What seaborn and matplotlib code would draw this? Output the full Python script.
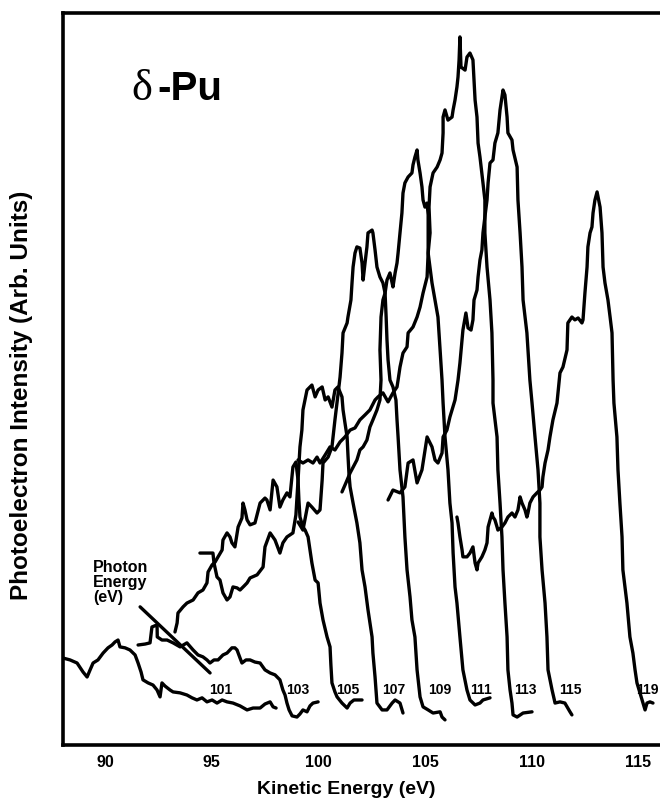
import matplotlib
matplotlib.use("Agg")
import matplotlib.pyplot as plt
from matplotlib.ticker import FixedLocator, FuncFormatter
import pandas as pd
import seaborn as sns

# (kinetic energy eV, intensity arb. units)
curve_101 = [(88.03, 2.95), (88.36, 2.87), (88.69, 2.74), (88.97, 2.36), (89.16, 2.15), (89.30, 2.45),
             (89.44, 2.74), (89.67, 2.87), (89.91, 3.16), (90.14, 3.38), (90.33, 3.50), (90.47, 3.63),
             (90.61, 3.71), (90.70, 3.42), (90.94, 3.38), (91.17, 3.29), (91.41, 3.08), (91.55, 2.74),
             (91.69, 2.36), (91.78, 2.03), (92.02, 1.90), (92.25, 1.81), (92.44, 1.60), (92.58, 1.31),
             (92.67, 1.90), (92.81, 1.77), (93.05, 1.60), (93.19, 1.52), (93.52, 1.48), (93.84, 1.39),
             (94.08, 1.27), (94.31, 1.18), (94.55, 1.27), (94.78, 1.10), (95.02, 1.18), (95.25, 1.05),
             (95.49, 1.18), (95.72, 1.10), (96.00, 1.05), (96.33, 0.93), (96.66, 0.76), (96.94, 0.84),
             (97.27, 0.84), (97.50, 1.01), (97.74, 1.10), (97.88, 0.89), (98.02, 0.84)]

curve_103 = [(91.55, 3.50), (91.88, 3.54), (92.11, 3.59), (92.20, 4.26), (92.44, 4.35), (92.45, 3.84),
             (92.67, 3.71), (92.91, 3.71), (93.19, 3.59), (93.52, 3.42), (93.84, 3.59), (94.13, 3.29),
             (94.36, 3.08), (94.59, 3.00), (94.78, 2.87), (94.92, 2.74), (95.11, 2.87), (95.30, 2.87),
             (95.53, 3.08), (95.72, 3.16), (95.95, 3.38), (96.09, 3.38), (96.19, 3.29), (96.33, 2.95),
             (96.42, 2.74), (96.61, 2.87), (96.80, 2.87), (97.03, 2.78), (97.27, 2.74), (97.50, 2.45),
             (97.74, 2.32), (97.97, 2.24), (98.20, 2.03), (98.34, 1.60), (98.44, 1.39), (98.53, 1.05),
             (98.63, 0.76), (98.77, 0.51), (99.00, 0.46), (99.14, 0.59), (99.28, 0.76), (99.47, 0.68),
             (99.61, 0.93), (99.75, 1.05), (99.99, 1.10)]

curve_105 = [(93.28, 4.05), (93.38, 4.43), (93.42, 4.85), (93.66, 5.11), (93.84, 5.27), (94.13, 5.40),
             (94.36, 5.70), (94.59, 5.82), (94.78, 6.12), (94.83, 6.58), (95.02, 6.88), (95.16, 7.00),
             (95.30, 7.22), (95.49, 7.51), (95.53, 7.93), (95.72, 8.23), (95.86, 8.06), (95.95, 7.81),
             (96.09, 7.64), (96.24, 8.48), (96.42, 8.86), (96.47, 9.49), (96.56, 9.20), (96.66, 8.78),
             (96.80, 8.57), (97.03, 8.65), (97.27, 9.49), (97.50, 9.70), (97.59, 9.62), (97.74, 9.20),
             (97.88, 10.46), (98.06, 10.17), (98.20, 9.32), (98.34, 9.62), (98.53, 9.92), (98.67, 9.75),
             (98.81, 11.01), (98.95, 11.22), (99.05, 10.46), (99.09, 9.62), (99.14, 8.90), (99.28, 8.48),
             (99.38, 8.35), (99.52, 8.06), (99.61, 7.51), (99.70, 6.96), (99.85, 6.24), (99.99, 6.12),
             (100.08, 5.27), (100.22, 4.56), (100.41, 3.84), (100.55, 3.42), (100.59, 2.66), (100.64, 1.90),
             (100.78, 1.52), (100.88, 1.31), (101.11, 1.05), (101.35, 0.84), (101.49, 1.05), (101.67, 1.18),
             (101.81, 1.18), (102.05, 1.18)]

curve_107 = [(94.45, 7.38), (95.06, 7.38), (95.11, 6.96), (95.25, 6.37), (95.39, 6.24), (95.53, 5.70),
             (95.72, 5.40), (95.86, 5.53), (96.00, 5.95), (96.19, 5.91), (96.33, 5.82), (96.52, 5.99),
             (96.66, 6.12), (96.80, 6.33), (97.13, 6.46), (97.41, 6.79), (97.50, 7.64), (97.74, 8.23),
             (97.97, 7.93), (98.20, 7.38), (98.34, 7.81), (98.53, 8.06), (98.81, 8.23), (98.95, 8.99),
             (99.05, 10.46), (99.14, 11.86), (99.23, 12.57), (99.28, 13.42), (99.47, 14.26), (99.70, 14.47),
             (99.85, 13.97), (99.99, 14.26), (100.18, 14.39), (100.32, 13.84), (100.46, 13.97), (100.64, 13.54),
             (100.78, 14.26), (100.92, 14.39), (101.11, 13.97), (101.16, 13.42), (101.25, 12.87), (101.35, 12.28),
             (101.39, 11.52), (101.44, 10.68), (101.49, 10.17), (101.63, 9.49), (101.81, 8.65), (101.95, 7.81),
             (102.05, 6.67), (102.19, 5.95), (102.33, 4.98), (102.52, 3.84), (102.56, 3.16), (102.66, 2.15),
             (102.75, 1.05), (102.99, 0.76), (103.22, 0.76), (103.46, 1.05), (103.60, 1.18), (103.83, 1.05),
             (103.97, 0.63)]

curve_109 = [(99.05, 8.69), (99.28, 8.35), (99.52, 9.49), (99.70, 9.32), (99.94, 9.07), (100.08, 9.20),
             (100.18, 10.46), (100.22, 11.18), (100.46, 11.43), (100.64, 11.86), (100.78, 13.00), (100.92, 14.05),
             (101.02, 14.81), (101.11, 15.82), (101.16, 16.67), (101.35, 17.09), (101.39, 17.34), (101.53, 18.06),
             (101.58, 18.78), (101.63, 19.45), (101.72, 20.04), (101.81, 20.30), (101.95, 20.25), (102.05, 19.62),
             (102.10, 18.90), (102.19, 19.62), (102.28, 20.30), (102.33, 20.89), (102.52, 21.01), (102.56, 20.89),
             (102.66, 20.17), (102.75, 19.45), (102.89, 19.03), (103.03, 18.78), (103.13, 18.35), (103.18, 17.34),
             (103.22, 16.37), (103.27, 15.53), (103.36, 14.68), (103.50, 14.39), (103.64, 13.84), (103.69, 13.00),
             (103.74, 12.28), (103.83, 10.89), (103.97, 9.75), (104.06, 8.06), (104.16, 6.67), (104.30, 5.53),
             (104.39, 4.56), (104.53, 3.84), (104.63, 2.45), (104.77, 1.31), (104.91, 0.89), (105.15, 0.76),
             (105.38, 0.63), (105.71, 0.68), (105.80, 0.46), (105.94, 0.34)]

curve_111 = [(101.11, 9.96), (101.25, 10.25), (101.35, 10.46), (101.49, 10.76), (101.81, 11.31), (101.95, 11.73),
             (102.10, 11.86), (102.28, 12.15), (102.42, 12.70), (102.56, 13.00), (102.75, 13.42), (102.89, 13.84),
             (102.94, 14.68), (102.89, 15.95), (102.94, 17.34), (103.03, 18.06), (103.13, 18.35), (103.22, 18.90),
             (103.36, 19.20), (103.46, 18.78), (103.50, 18.61), (103.60, 19.20), (103.69, 19.62), (103.74, 20.04),
             (103.83, 20.89), (103.92, 21.73), (103.97, 22.57), (104.06, 23.00), (104.21, 23.25), (104.39, 23.42),
             (104.44, 23.76), (104.53, 24.09), (104.63, 24.39), (104.67, 23.97), (104.77, 23.42), (104.86, 22.83),
             (104.91, 22.28), (105.00, 21.98), (105.10, 22.15), (105.15, 21.65), (105.15, 20.89), (105.15, 20.04),
             (105.33, 18.78), (105.47, 18.06), (105.61, 17.34), (105.71, 15.95), (105.80, 14.68), (105.85, 13.71),
             (105.94, 12.28), (106.08, 10.89), (106.17, 9.49), (106.27, 8.65), (106.32, 7.38), (106.41, 5.95),
             (106.50, 5.27), (106.64, 3.84), (106.78, 2.45), (106.97, 1.60), (107.11, 1.18), (107.35, 0.97),
             (107.58, 1.05), (107.72, 1.18), (108.05, 1.27)]

curve_113 = [(99.05, 11.31), (99.28, 11.18), (99.52, 11.31), (99.75, 11.18), (99.94, 11.43), (100.08, 11.18),
             (100.32, 11.52), (100.55, 11.86), (100.78, 11.73), (101.02, 12.07), (101.25, 12.28), (101.49, 12.57),
             (101.72, 12.66), (101.95, 13.00), (102.19, 13.21), (102.42, 13.42), (102.66, 13.84), (102.80, 13.97),
             (103.03, 14.14), (103.27, 13.76), (103.50, 14.14), (103.69, 14.39), (103.74, 14.68), (103.83, 15.23),
             (103.97, 15.82), (104.16, 16.08), (104.21, 16.67), (104.44, 16.92), (104.63, 17.34), (104.77, 17.76),
             (104.91, 18.35), (105.10, 19.03), (105.15, 20.04), (105.24, 20.89), (105.19, 21.98), (105.24, 22.83),
             (105.38, 23.42), (105.57, 23.67), (105.71, 23.97), (105.80, 24.26), (105.85, 25.11), (105.85, 25.78),
             (105.94, 26.08), (106.08, 25.65), (106.27, 25.78), (106.32, 26.08), (106.41, 26.50), (106.50, 27.05),
             (106.55, 27.47), (106.60, 28.19), (106.64, 29.16), (106.69, 27.89), (106.88, 27.76), (106.97, 28.31),
             (107.11, 28.48), (107.25, 28.19), (107.35, 26.50), (107.44, 25.78), (107.49, 24.68), (107.58, 24.09),
             (107.72, 23.00), (107.81, 22.28), (107.81, 20.89), (107.91, 19.45), (108.05, 18.06), (108.14, 16.67),
             (108.19, 14.68), (108.19, 13.71), (108.38, 12.28), (108.42, 10.89), (108.52, 9.49), (108.61, 8.06),
             (108.66, 6.67), (108.75, 5.27), (108.85, 3.84), (108.89, 2.45), (108.99, 1.60), (109.08, 1.05),
             (109.13, 0.55), (109.32, 0.46), (109.60, 0.63), (110.02, 0.68)]

curve_115 = [(103.27, 9.62), (103.50, 10.04), (103.83, 9.92), (104.06, 10.17), (104.21, 11.18), (104.44, 11.31),
             (104.63, 10.34), (104.86, 10.89), (105.10, 12.28), (105.33, 11.86), (105.47, 11.31), (105.61, 11.18),
             (105.80, 11.60), (105.85, 12.28), (106.03, 12.57), (106.17, 13.12), (106.41, 13.84), (106.55, 14.68),
             (106.64, 15.40), (106.78, 16.79), (106.92, 17.51), (107.02, 16.88), (107.16, 16.79), (107.25, 17.22),
             (107.30, 18.06), (107.44, 18.48), (107.49, 19.03), (107.58, 19.75), (107.67, 20.17), (107.72, 20.89),
             (107.81, 21.56), (107.91, 22.28), (107.96, 23.00), (108.05, 23.84), (108.19, 23.97), (108.28, 24.68),
             (108.42, 25.11), (108.52, 26.08), (108.66, 26.92), (108.75, 26.71), (108.85, 25.78), (108.89, 25.11),
             (109.08, 24.81), (109.13, 24.39), (109.32, 23.67), (109.36, 22.28), (109.46, 20.89), (109.55, 19.45),
             (109.60, 18.06), (109.78, 16.67), (109.92, 14.68), (110.02, 13.71), (110.16, 12.28), (110.30, 10.89),
             (110.39, 9.49), (110.39, 8.06), (110.49, 6.67), (110.63, 5.27), (110.72, 3.84), (110.77, 2.45),
             (110.96, 1.60), (111.10, 1.05), (111.33, 1.10), (111.56, 1.05), (111.80, 0.68), (111.89, 0.55)]

curve_119 = [(106.50, 8.90), (106.55, 8.65), (106.64, 8.06), (106.74, 7.51), (106.78, 7.22), (106.97, 7.22),
             (107.11, 7.38), (107.25, 7.64), (107.35, 6.96), (107.44, 6.67), (107.49, 6.96), (107.67, 7.22),
             (107.81, 7.51), (107.91, 7.81), (107.96, 8.48), (108.14, 9.07), (108.19, 8.90), (108.28, 8.78),
             (108.38, 8.48), (108.42, 8.35), (108.61, 8.48), (108.75, 8.65), (108.89, 8.90), (109.08, 9.07),
             (109.22, 8.90), (109.36, 9.20), (109.46, 9.75), (109.55, 9.49), (109.69, 9.20), (109.78, 8.90),
             (109.83, 9.07), (109.92, 9.49), (110.07, 9.75), (110.25, 9.92), (110.39, 10.04), (110.49, 10.17),
             (110.53, 10.59), (110.63, 11.18), (110.77, 11.73), (110.86, 12.28), (111.00, 13.00), (111.19, 13.71),
             (111.33, 14.98), (111.47, 15.23), (111.66, 15.95), (111.70, 17.09), (111.89, 17.34), (112.03, 17.22),
             (112.18, 17.30), (112.36, 17.09), (112.41, 17.22), (112.50, 18.35), (112.60, 19.45), (112.64, 20.30),
             (112.74, 20.89), (112.83, 21.14), (112.88, 21.73), (112.97, 22.28), (113.07, 22.62), (113.21, 21.98),
             (113.30, 20.89), (113.35, 19.45), (113.44, 18.78), (113.58, 18.06), (113.68, 17.34), (113.77, 16.67),
             (113.82, 14.68), (113.86, 13.71), (114.00, 12.28), (114.05, 10.89), (114.14, 9.49), (114.24, 8.06),
             (114.28, 6.67), (114.47, 5.27), (114.61, 3.84), (114.75, 3.16), (114.85, 2.45), (114.94, 1.90),
             (115.18, 1.18), (115.32, 0.76), (115.41, 1.05), (115.55, 1.10), (115.69, 1.05)]

photon_energies = ["101", "103", "105", "107", "109", "111", "113", "115", "119"]
curves = [curve_101, curve_103, curve_105, curve_107, curve_109, curve_111, curve_113, curve_115, curve_119]
label_ke = [95.44, 99.05, 101.39, 103.55, 105.71, 107.63, 109.69, 111.80, 115.97]
label_int = 1.60
x_ticks = list(range(89, 117))
y_ticks = list(range(0, 31))

sns.set_style("white")
plt.rcParams['font.family'] = ['Liberation Sans', 'DejaVu Sans']
plt.rcParams['text.color'] = 'black'
plt.rcParams['axes.labelcolor'] = 'black'
plt.rcParams['xtick.color'] = 'black'
plt.rcParams['ytick.color'] = 'black'

rows = []
for name, pts in zip(photon_energies, curves):
    for k, (e, i) in enumerate(pts):
        rows.append({"curve": name, "order": k, "ke": e, "intensity": i})
df = pd.DataFrame(rows)

fig = plt.figure(figsize=(6.6, 8.1), dpi=100)
ax = fig.add_axes([63 / 660, 1 - 745 / 810, 1 - 63 / 660, (745 - 13) / 810])
sns.lineplot(data=df, x="ke", y="intensity", units="curve", estimator=None, sort=False,
             color="black", lw=2.4, ax=ax, legend=False)

ax.set_xlim(88.03, 116.02)
ax.set_ylim(-0.72, 30.17)
ax.set_xlabel("")
ax.set_ylabel("")

ax.xaxis.set_major_locator(FixedLocator(x_ticks))
ax.xaxis.set_major_formatter(FuncFormatter(lambda v, p: f"{int(round(v))}" if int(round(v)) % 5 == 0 else ""))
ax.yaxis.set_major_locator(FixedLocator(y_ticks))
ax.tick_params(axis="x", direction="in", length=6, width=2, pad=7, labelsize=11.5, colors="black")
ax.tick_params(axis="y", direction="in", length=9, width=2.2, labelleft=False, colors="black")
for lab in ax.get_xticklabels():
    lab.set_fontweight("bold")

for side in ["left", "bottom", "top"]:
    ax.spines[side].set_visible(True)
    ax.spines[side].set_linewidth(2.6)
    ax.spines[side].set_color("black")
ax.spines["right"].set_visible(False)

fig.text(346 / 660, 1 - 790 / 810, "Kinetic Energy (eV)", ha="center", va="center",
         fontsize=14, fontweight="bold", color="black")
fig.text(22 / 660, 1 - 395 / 810, "Photoelectron Intensity (Arb. Units)", rotation=90,
         ha="center", va="center", fontsize=17.5, fontweight="bold", color="black")

fig.text(131 / 660, 1 - 100 / 810, "δ", family=["Liberation Serif", "DejaVu Serif"], fontsize=32,
         ha="left", va="baseline", color="black")
fig.text(157 / 660, 1 - 100 / 810, "-Pu", fontsize=29, fontweight="bold", ha="left", va="baseline",
         color="black")

fig.text(93 / 660, 1 - 560 / 810, "Photon\nEnergy\n(eV)", ha="left", va="top", fontsize=11.5,
         fontweight="bold", linespacing=1.0, color="black")
ax.annotate("", xy=(95.02, 2.24), xytext=(91.55, 5.19),
            arrowprops=dict(arrowstyle="-", lw=2.4, color="black"))

for t, e in zip(photon_energies, label_ke):
    ha = "right" if t == "119" else "center"
    ax.text(e, label_int, t, ha=ha, va="center", fontsize=10, fontweight="bold", clip_on=False,
            color="black")

fig.savefig("out.png", dpi=100)
